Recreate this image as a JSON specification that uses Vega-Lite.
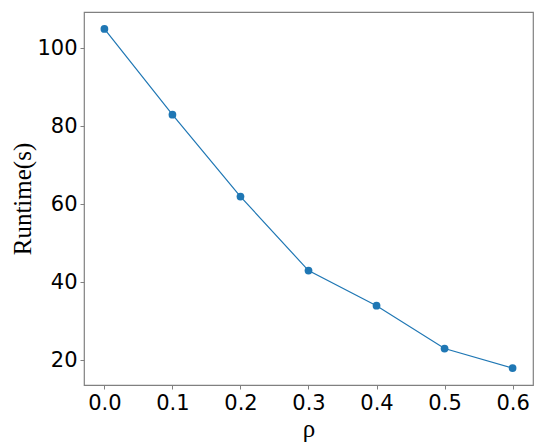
{
  "$schema": "https://vega.github.io/schema/vega-lite/v6.json",
  "width": 449,
  "height": 373,
  "autosize": {"type": "none"},
  "padding": {"left": 84, "top": 12, "right": 17, "bottom": 62},
  "background": "white",
  "config": {
    "view": {"stroke": "#808080", "strokeWidth": 1.2},
    "axis": {
      "domain": false,
      "grid": false,
      "tickColor": "#808080",
      "tickSize": 4,
      "labelFont": "DejaVu Sans",
      "labelFontSize": 21,
      "labelColor": "black",
      "titleFont": "Liberation Serif",
      "titleFontSize": 25,
      "titleFontWeight": "normal",
      "titleColor": "black"
    }
  },
  "data": {
    "values": [
      {"rho": 0.0, "runtime": 105},
      {"rho": 0.1, "runtime": 83},
      {"rho": 0.2, "runtime": 62},
      {"rho": 0.3, "runtime": 43},
      {"rho": 0.4, "runtime": 34},
      {"rho": 0.5, "runtime": 23},
      {"rho": 0.6, "runtime": 18}
    ]
  },
  "encoding": {
    "x": {
      "field": "rho", "type": "quantitative",
      "scale": {"domain": [-0.03, 0.63], "nice": false, "zero": false},
      "axis": {"values": [0, 0.1, 0.2, 0.3, 0.4, 0.5, 0.6], "format": ".1f", "title": "ρ", "labelPadding": 3, "titlePadding": 3}
    },
    "y": {
      "field": "runtime", "type": "quantitative",
      "scale": {"domain": [13.65, 109.35], "nice": false, "zero": false},
      "axis": {"values": [20, 40, 60, 80, 100], "title": "Runtime(s)", "labelPadding": 3, "titlePadding": 1}
    }
  },
  "layer": [
    {"mark": {"type": "line", "color": "#1f77b4", "strokeWidth": 1.2}},
    {"mark": {"type": "point", "filled": true, "color": "#1f77b4", "opacity": 1, "size": 60}}
  ]
}
